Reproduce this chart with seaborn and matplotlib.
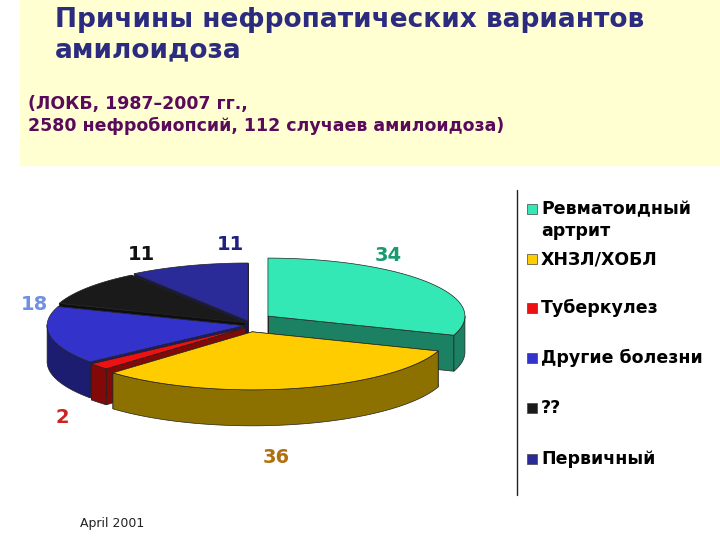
import numpy as np
import matplotlib
matplotlib.use("Agg")
import matplotlib.pyplot as plt
import seaborn as sns
from matplotlib.patches import Polygon, Rectangle
from matplotlib.colors import to_rgb

sns.set_theme(style="white")
plt.rcParams['font.family'] = ['DejaVu Sans']

categories = ["Ревматоидный\nартрит", "ХНЗЛ/ХОБЛ", "Туберкулез", "Другие болезни", "??", "Первичный"]
values = [34, 36, 2, 18, 11, 11]
colors = ["#33e8b4", "#ffcc00", "#ee1111", "#3333cc", "#1a1a1a", "#2a2a99"]
label_colors = ["#1a9a70", "#b07010", "#cc2222", "#7090e0", "#111111", "#202080"]
explode = [22, 10, 6, 6, 6, 6]
label_r = [0.75, 0.55, 1.25, 1.08, 0.66, 0.3]
label_yoff = [-35, 95, 41, -32, -45, -60]
legend_y = [209, 259, 308, 358, 408, 459]

fig = plt.figure(figsize=(7.2, 5.4), dpi=100)
ax = fig.add_axes([0, 0, 1, 1])
ax.set_xlim(0, 720); ax.set_ylim(540, 0); ax.axis("off")

ax.add_patch(Rectangle((20, 0), 700, 165, color="#ffffd2", zorder=0))
ax.text(55, 7, "Причины нефропатических вариантов\nамилоидоза", fontsize=19, fontweight="bold",
        color="#2b2b80", va="top", ha="left", linespacing=1.2)
ax.text(28, 95, "(ЛОКБ, 1987–2007 гг.,\n2580 нефробиопсий, 112 случаев амилоидоза)", fontsize=12.5,
        fontweight="bold", color="#5a0a5a", va="top", ha="left", linespacing=1.3)
ax.text(80, 523, "April 2001", fontsize=9, color="#222222", va="center")

cx, cy, rx, ry, depth = 250, 325, 197, 58, 36
total = sum(values)
start = 90.0
slices = []
for v, c, e in zip(values, colors, explode):
    sweep = 360 * v / total
    t1, t0 = start, start - sweep
    mid = np.radians((t0 + t1) / 2)
    dx, dy = e * np.cos(mid), -e * np.sin(mid) * 0.7
    slices.append((t0, t1, c, dx, dy, mid))
    start = t0

def pt(th, dx, dy, r=1.0, down=0):
    return (cx + dx + r * rx * np.cos(th), cy + dy - r * ry * np.sin(th) + down)

order = sorted(range(len(slices)), key=lambda i: -np.sin(slices[i][5]))
for i in order:
    t0, t1, c, dx, dy, mid = slices[i]
    dark = tuple(np.array(to_rgb(c)) * 0.55)
    ths = np.radians(np.linspace(t0, t1, 80))
    for th in (np.radians(t0), np.radians(t1)):
        poly = [pt(0, dx, dy, 0), pt(th, dx, dy), pt(th, dx, dy, down=depth), pt(0, dx, dy, 0, depth)]
        ax.add_patch(Polygon(poly, closed=True, fc=dark, ec="#222222", lw=0.5, zorder=2))
    front = ths[np.sin(ths) <= 0.02]
    if len(front) > 1:
        top = [pt(t, dx, dy) for t in front]
        bot = [pt(t, dx, dy, down=depth) for t in front[::-1]]
        ax.add_patch(Polygon(top + bot, closed=True, fc=dark, ec="#222222", lw=0.5, zorder=2))
    poly = [pt(0, dx, dy, 0)] + [pt(t, dx, dy) for t in ths]
    ax.add_patch(Polygon(poly, closed=True, fc=c, ec="#222222", lw=0.5, zorder=3))

for (t0, t1, c, dx, dy, mid), v, lc, lr, yo in zip(slices, values, label_colors, label_r, label_yoff):
    x, y = pt(mid, dx, dy, lr)
    ax.text(x, y + yo, str(v), fontsize=14, fontweight="bold", color=lc, ha="center", va="center", zorder=5)

# legend
ax.plot([517, 517], [190, 495], color="#222222", lw=1)
for lab, c, ly in zip(categories, colors, legend_y):
    ax.add_patch(Rectangle((527, ly - 5), 10, 10, fc=c, ec="#444444", lw=0.5, zorder=4))
    first, *rest = lab.split("\n")
    ax.text(541, ly, first, fontsize=12.5, fontweight="bold", color="black", va="center", ha="left")
    for k, line in enumerate(rest):
        ax.text(541, ly + 22 * (k + 1), line, fontsize=12.5, fontweight="bold", color="black",
                va="center", ha="left")
fig.savefig("out.png", dpi=100)
